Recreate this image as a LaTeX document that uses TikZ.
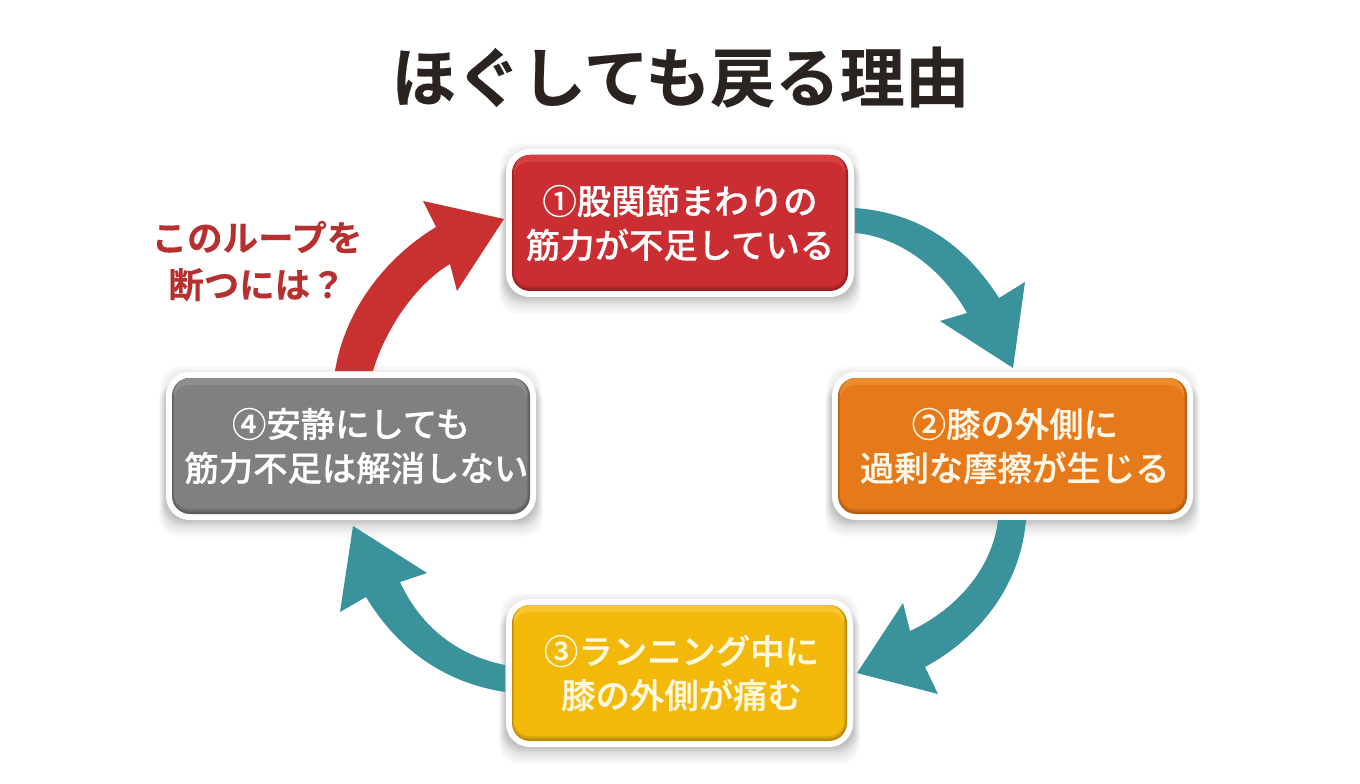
\documentclass[tikz,border=0pt]{standalone}
\usepackage{fontspec}
\usetikzlibrary{calc}
\newfontfamily\jptitle{Noto Sans CJK JP Bold}[FakeBold=0.4]
\newfontfamily\jpask{Noto Sans CJK JP Bold}[FakeBold=0.25]
\newfontfamily\jpmed{Noto Sans CJK JP Medium}[FakeBold=0.5]
\definecolor{redMain}{HTML}{CB2E32}\definecolor{redDark}{HTML}{A01E23}\definecolor{redMid}{HTML}{B5262B}\definecolor{redLight}{HTML}{D4413F}\definecolor{redText}{HTML}{FFFFFF}
\definecolor{orMain}{HTML}{E67A1B}\definecolor{orDark}{HTML}{B45C12}\definecolor{orMid}{HTML}{CC6B16}\definecolor{orLight}{HTML}{EC8A2E}\definecolor{orText}{HTML}{FFF6E6}
\definecolor{yeMain}{HTML}{F2B90A}\definecolor{yeDark}{HTML}{BC8C08}\definecolor{yeMid}{HTML}{D7A309}\definecolor{yeLight}{HTML}{F6C62C}\definecolor{yeText}{HTML}{FFF9E0}
\definecolor{grMain}{HTML}{808080}\definecolor{grDark}{HTML}{5C5C5C}\definecolor{grMid}{HTML}{6E6E6E}\definecolor{grLight}{HTML}{8E8E8E}\definecolor{grText}{HTML}{FFFFFF}
\definecolor{tealArrow}{HTML}{3A929C}\definecolor{redArrow}{HTML}{C93030}
\definecolor{titleInk}{HTML}{2A2320}\definecolor{askInk}{HTML}{B5302F}
\tikzset{
  cyclebox/.style={rounded corners=13.5pt, inner sep=0pt, outer sep=0pt, align=center,
    font=\jpmed\fontsize{25.8}{33}\selectfont},
  arrowshape/.style={draw=none},
}
\newcommand{\cyclebox}[7]{%
  \foreach \s in {6,5,4,3,2,1}
    \fill[black,opacity=.012,rounded corners=15pt]
      ({#2-#4/2-6-\s},{#3-#5/2-6-\s}) rectangle ({#2+#4/2+6+\s},{#3+#5/2+6+\s});
  \foreach \s in {16,14,12,10,8,6,4,2,0}
    \fill[black,opacity=.02,rounded corners=15pt]
      ({#2-#4/2-6-\s*0.45},{#3-#5/2+4}) rectangle ({#2+#4/2+6+\s*0.45},{#3+#5/2+7+\s});
  \node[cyclebox, text=#6Text, minimum width={#4*0.75pt}, minimum height={#5*0.75pt},
    preaction={draw=white,line width=9pt}, fill=#6Dark,
    path picture={
      \fill[#6Mid,rounded corners=12pt]
        ($(path picture bounding box.south west)+(1,-2.5)$) rectangle
        ($(path picture bounding box.north east)+(-1.5,0)$);
      \fill[#6Light,rounded corners=12pt]
        ($(path picture bounding box.south west)+(2,-5)$) rectangle
        ($(path picture bounding box.north east)+(-3,0)$);
      \fill[#6Main,rounded corners=11pt]
        ($(path picture bounding box.south west)+(2,-5)$) rectangle
        ($(path picture bounding box.north east)+(-3,7)$);
    }] (#1) at (#2,#3) {#7};%
}
\begin{document}
\begin{tikzpicture}[x=0.75pt,y=-0.75pt]
\useasboundingbox (0,0) rectangle (1360,784);
\fill[white] (0,0) rectangle (1360,784);

\node[text=titleInk, font=\jptitle\fontsize{48.6}{56}\selectfont, inner sep=0pt] (title) at (680.5,77) {ほぐしても戻る理由};

\cyclebox{b1}{680}{223}{336}{136}{red}{①股関節まわりの\\筋力が不足している}
\cyclebox{b2}{1012.5}{446}{349}{136}{or}{\hspace*{3.5pt}②膝の外側に\\\hspace*{3.5pt}過剰な摩擦が生じる}
\cyclebox{b3}{679.5}{673}{335}{136}{ye}{\hspace*{3pt}③ランニング中に\\\hspace*{3pt}膝の外側が痛む}
\cyclebox{b4}{351}{446}{358}{136}{gr}{④安静にしても\\\hspace*{8pt}筋力不足は解消しない}

\node[text=askInk, align=center, inner sep=0pt, font=\jpask\fontsize{26.6}{35.2}\selectfont] (ask) at (257,261) {このループを\\断つには？};

% b1 -> b2
\fill[tealArrow,arrowshape] ($(b1.east)+(7,-15)$) .. controls (920,213) and (965,245) .. (999,298)
  -- (1025,282) -- ($(b2.north)+(0.5,-10)$) -- (940,321) -- (967,313)
  .. controls (940,265) and (895,236) .. ($(b1.east)+(7,10)$) -- cycle;
% b2 -> b3
\fill[tealArrow,arrowshape] ($(b2.south)+(13.5,6)$) .. controls (1020,590) and (975,640) .. (925,667)
  -- (938,694) -- ($(b3.east)+(10,0)$) -- (903,603) -- (910,631)
  .. controls (955,610) and (992,570) .. ($(b2.south)+(-14.5,6)$) -- cycle;
% b3 -> b4
\fill[tealArrow,arrowshape] ($(b3.west)+(-7,-8)$) .. controls (455,655) and (420,625) .. (400,582)
  -- (427,573) -- ($(b4.south)+(2,12)$) -- (340,612) -- (366,597)
  .. controls (395,645) and (440,682) .. ($(b3.west)+(-7,19)$) -- cycle;
% b4 -> b1
\fill[redArrow,arrowshape] ($(b4.north)+(-16,-7)$) .. controls (345,310) and (385,258) .. (436,227)
  -- (423,201) -- ($(b1.west)+(-8,-4)$) -- (457,291) -- (450,264)
  .. controls (415,285) and (385,330) .. ($(b4.north)+(22,-7)$) -- cycle;
\end{tikzpicture}
\end{document}
